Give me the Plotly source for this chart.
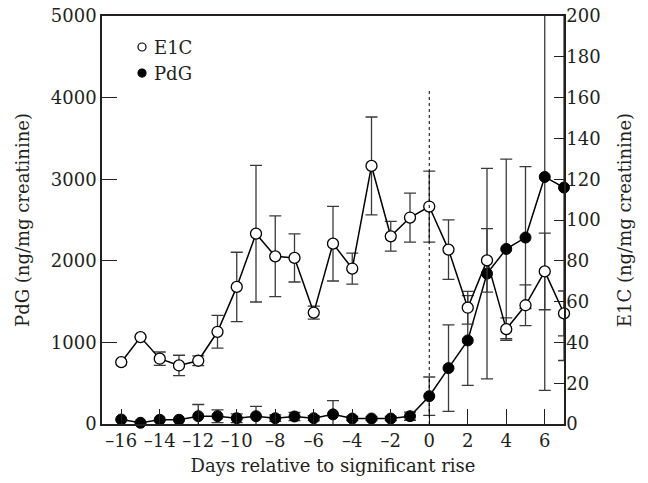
import plotly.graph_objects as go

days = list(range(-16, 8))

e1c = [30.3, 42.6, 32.0, 28.7, 31.0, 45.2, 67.2, 93.3, 82.2, 81.4, 54.6, 88.4,
       76.2, 126.5, 92.0, 101.2, 106.6, 85.5, 57.0, 80.2, 46.5, 58.2, 74.8, 54.2]
e1c_err = [0, 0, 3.3, 5.0, 2.4, 8.0, 17.0, 33.5, 19.8, 11.8, 3.2, 18.3,
           7.6, 24.0, 7.3, 12.0, 17.4, 14.6, 8.0, 15.6, 5.5, 10.0, 18.8, 11.0]

pdg = [55, 15, 52, 52, 96, 96, 71, 96, 71, 92, 71, 118,
       67, 67, 67, 96, 341, 685, 1024, 1843, 2145, 2285, 3028, 2898]
pdg_err = [0, 0, 0, 0, 143, 78, 54, 119, 40, 50, 30, 168,
           25, 20, 25, 50, 235, 530, 550, 1290, 1100, 870, 2617, 2120]

x_ticks = list(range(-16, 7, 2))
x_ticktext = [str(v).replace("-", "\u2013") for v in x_ticks]
legend_names = ["E1C", "PdG"]

FONT = "DejaVu Serif"
FS = 18
ERRC = "#3a3a3a"
INK = "#231f20"
fnt = dict(family=FONT, size=FS, color=INK)

fig = go.Figure()

fig.add_trace(go.Scatter(
    x=days, y=pdg, mode="lines+markers", name="PdG", showlegend=False,
    line=dict(color="black", width=1.5),
    marker=dict(symbol="circle", size=11, color="black", line=dict(color="black", width=1)),
    error_y=dict(type="data", array=pdg_err, visible=True, color=ERRC, thickness=1.3, width=6),
    yaxis="y", cliponaxis=False,
))
fig.add_trace(go.Scatter(
    x=days, y=e1c, mode="lines+markers", name="E1C", showlegend=False,
    line=dict(color="black", width=1.5),
    marker=dict(symbol="circle", size=11, color="white", line=dict(color="black", width=1.3)),
    error_y=dict(type="data", array=e1c_err, visible=True, color=ERRC, thickness=1.3, width=6),
    yaxis="y2", cliponaxis=False,
))

fig.add_shape(type="line", xref="x", yref="y", x0=0, x1=0, y0=0, y1=4100,
              line=dict(color="black", width=1, dash="dot"))

# legend drawn as symbols + text in paper coordinates
leg_y = [0.924, 0.860]
leg_fill = ["white", "black"]
for name, yy, fill in zip(legend_names, leg_y, leg_fill):
    fig.add_shape(type="circle", xref="paper", yref="paper",
                  xsizemode="pixel", ysizemode="pixel",
                  xanchor=0.0866, yanchor=yy, x0=-4, x1=4, y0=-4, y1=4,
                  fillcolor=fill, line=dict(color="black", width=1.2))
    fig.add_annotation(x=0.108, y=yy, xref="paper", yref="paper", text=name,
                       showarrow=False, xanchor="left", yanchor="middle", font=fnt)

fig.update_layout(
    template="none",
    width=648, height=483,
    margin=dict(l=102, r=84, t=16, b=59),
    paper_bgcolor="white", plot_bgcolor="white",
    font=fnt,
    showlegend=False,
    xaxis=dict(range=[-17, 7], tickvals=x_ticks, ticktext=x_ticktext, tickfont=fnt,
               ticks="inside", ticklen=15, tickwidth=1.3, tickcolor=INK,
               showline=True, linecolor=INK, linewidth=1.5, mirror=True,
               showgrid=False, zeroline=False,
               title=dict(text="Days relative to significant rise", standoff=9, font=fnt)),
    yaxis=dict(range=[0, 5000], tickvals=[0, 1000, 2000, 3000, 4000, 5000], tickfont=fnt,
               ticks="inside", ticklen=15, tickwidth=1.3, tickcolor=INK,
               showline=True, linecolor=INK, linewidth=1.5,
               showgrid=False, zeroline=False,
               title=dict(text="PdG (ng/mg creatinine)", standoff=17, font=fnt)),
    yaxis2=dict(range=[0, 200], tickvals=list(range(0, 201, 20)), overlaying="y", side="right",
                tickfont=fnt, ticklabelstandoff=-3,
                ticks="inside", ticklen=10, tickwidth=1.3, tickcolor=INK,
                showline=True, linecolor=INK, linewidth=1.5,
                showgrid=False, zeroline=False,
                title=dict(text="E1C (ng/mg creatinine)", standoff=19, font=fnt)),
)

fig.write_html("out.html", config={"displayModeBar": False},
               post_script="document.body.style.margin='0';document.body.style.padding='0';")
